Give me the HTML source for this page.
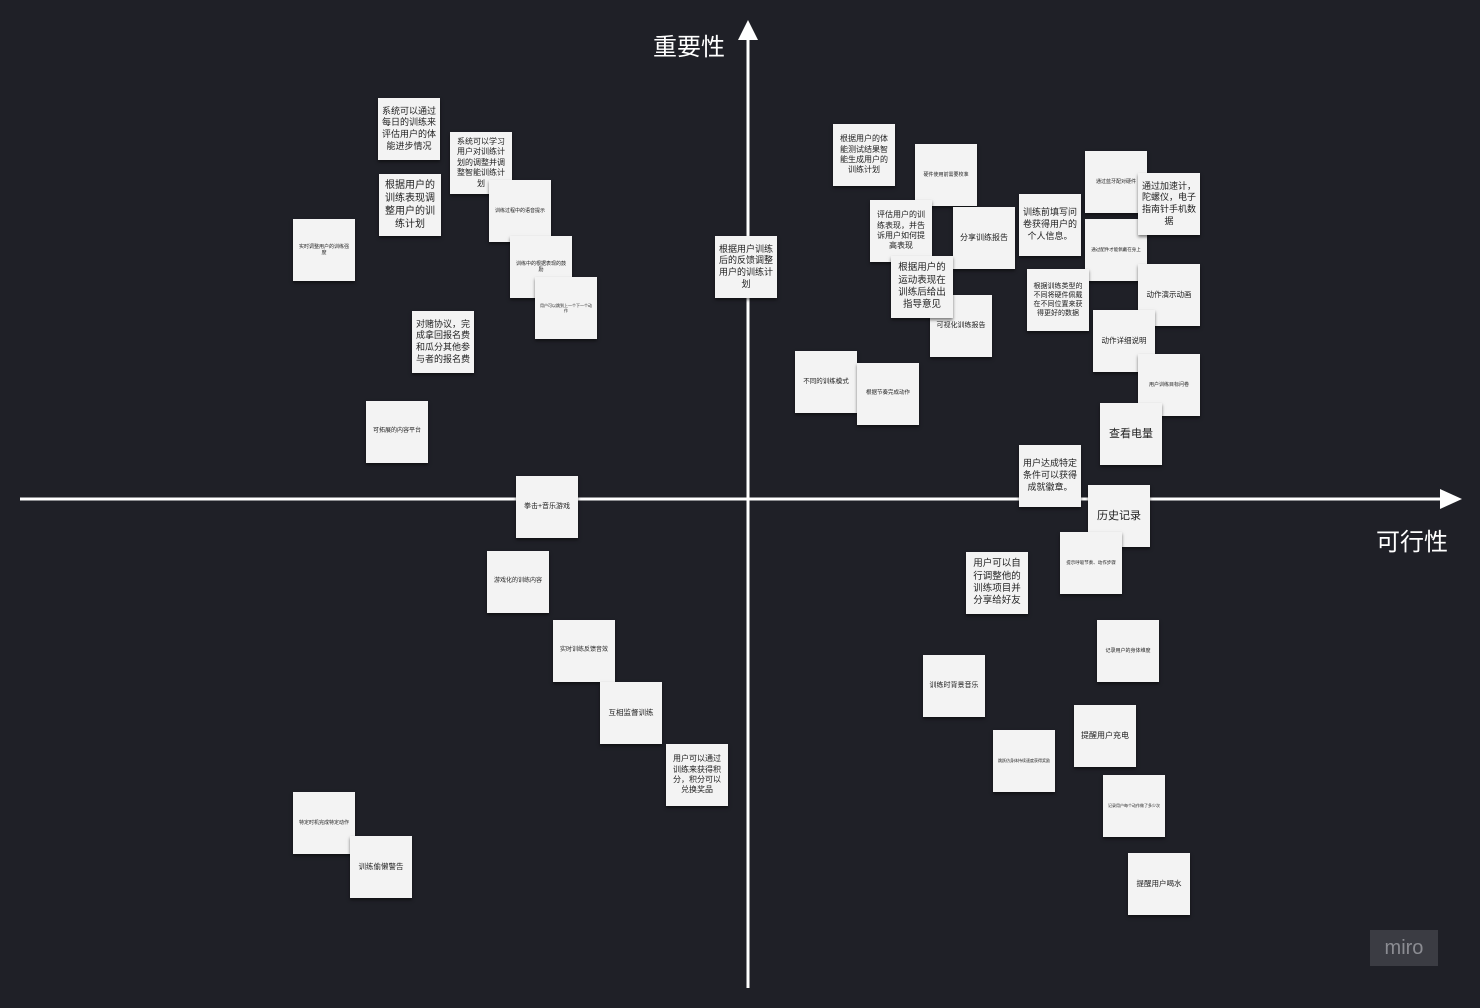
<!DOCTYPE html>
<html><head><meta charset="utf-8"><style>
html,body{margin:0;padding:0;}
body{width:1480px;height:1008px;background:#1f2027;position:relative;overflow:hidden;font-family:"Liberation Sans","Noto Sans CJK SC",sans-serif;}
.n{position:absolute;width:62px;height:62px;background:#f3f3f3;box-shadow:0 2px 3px rgba(0,0,0,.5);display:flex;align-items:center;justify-content:center;text-align:center;color:#222;line-height:1.3;box-sizing:border-box;padding:3px 4px;word-break:break-all;}
.lab{position:absolute;color:#fff;font-size:24px;font-family:"Liberation Sans","Noto Sans CJK SC",sans-serif;}
</style></head><body>
<svg width="1480" height="1008" style="position:absolute;left:0;top:0">
<line x1="20" y1="499" x2="1445" y2="499" stroke="#fff" stroke-width="3"/>
<polygon points="1462,499 1440,489 1440,509" fill="#fff"/>
<line x1="748" y1="988" x2="748" y2="36" stroke="#fff" stroke-width="3"/>
<polygon points="748,20 738,40 758,40" fill="#fff"/>
</svg>
<div class="lab" style="left:653px;top:27px;">重要性</div>
<div class="lab" style="left:1376px;top:522px;">可行性</div>
<div style="position:absolute;left:1370px;top:930px;width:68px;height:36px;background:#3b3c43;color:#8b8c92;font-size:20px;display:flex;align-items:center;justify-content:center;">miro</div>

<div class="n" style="left:378px;top:98px;font-size:9px">系统可以通过每日的训练来评估用户的体能进步情况</div>
<div class="n" style="left:450px;top:132px;font-size:8px">系统可以学习用户对训练计划的调整并调整智能训练计划</div>
<div class="n" style="left:379px;top:174px;font-size:10px">根据用户的训练表现调整用户的训练计划</div>
<div class="n" style="left:293px;top:219px;font-size:5px">实时调整用户的训练强度</div>
<div class="n" style="left:489px;top:180px;font-size:5px">训练过程中的语音提示</div>
<div class="n" style="left:510px;top:236px;font-size:5px">训练中的根据表现的鼓励</div>
<div class="n" style="left:535px;top:277px;font-size:4px">用户可以跳到上一个下一个动作</div>
<div class="n" style="left:412px;top:311px;font-size:9px">对赌协议，完成拿回报名费和瓜分其他参与者的报名费</div>
<div class="n" style="left:366px;top:401px;font-size:6px">可拓展的内容平台</div>
<div class="n" style="left:715px;top:236px;font-size:9px">根据用户训练后的反馈调整用户的训练计划</div>
<div class="n" style="left:833px;top:124px;font-size:8px">根据用户的体能测试结果智能生成用户的训练计划</div>
<div class="n" style="left:915px;top:144px;font-size:5px">硬件使用前需要校准</div>
<div class="n" style="left:953px;top:207px;font-size:8px">分享训练报告</div>
<div class="n" style="left:870px;top:200px;font-size:8px">评估用户的训练表现，并告诉用户如何提高表现</div>
<div class="n" style="left:930px;top:295px;font-size:7px">可视化训练报告</div>
<div class="n" style="left:891px;top:256px;font-size:9.5px">根据用户的运动表现在训练后给出指导意见</div>
<div class="n" style="left:1019px;top:194px;font-size:9px">训练前填写问卷获得用户的个人信息。</div>
<div class="n" style="left:1085px;top:151px;font-size:5px">通过蓝牙配对硬件</div>
<div class="n" style="left:1085px;top:219px;font-size:4.5px">通过配件才能佩戴在身上</div>
<div class="n" style="left:1138px;top:173px;font-size:9px">通过加速计，陀螺仪，电子指南针手机数据</div>
<div class="n" style="left:1027px;top:269px;font-size:7px">根据训练类型的不同将硬件佩戴在不同位置来获得更好的数据</div>
<div class="n" style="left:1138px;top:264px;font-size:7.5px">动作演示动画</div>
<div class="n" style="left:1093px;top:310px;font-size:7.5px">动作详细说明</div>
<div class="n" style="left:1138px;top:354px;font-size:5px">用户训练目标问卷</div>
<div class="n" style="left:1100px;top:403px;font-size:11px">查看电量</div>
<div class="n" style="left:795px;top:351px;font-size:6.5px">不同的训练模式</div>
<div class="n" style="left:857px;top:363px;font-size:5.5px">根据节奏完成动作</div>
<div class="n" style="left:1019px;top:445px;font-size:9px">用户达成特定条件可以获得成就徽章。</div>
<div class="n" style="left:1088px;top:485px;font-size:11px">历史记录</div>
<div class="n" style="left:1060px;top:532px;font-size:4.5px">提示呼吸节奏、动作步骤</div>
<div class="n" style="left:966px;top:552px;font-size:9.5px">用户可以自行调整他的训练项目并分享给好友</div>
<div class="n" style="left:1097px;top:620px;font-size:5px">记录用户的身体维度</div>
<div class="n" style="left:923px;top:655px;font-size:7px">训练时背景音乐</div>
<div class="n" style="left:993px;top:730px;font-size:4px">跳跃仿身体持续速度获得奖励</div>
<div class="n" style="left:1074px;top:705px;font-size:8px">提醒用户充电</div>
<div class="n" style="left:1103px;top:775px;font-size:4px">记录用户每个动作做了多少次</div>
<div class="n" style="left:1128px;top:853px;font-size:7.5px">提醒用户喝水</div>
<div class="n" style="left:516px;top:476px;font-size:7px">拳击+音乐游戏</div>
<div class="n" style="left:487px;top:551px;font-size:6px">游戏化的训练内容</div>
<div class="n" style="left:553px;top:620px;font-size:6px">实时训练反馈音效</div>
<div class="n" style="left:600px;top:682px;font-size:7.5px">互相监督训练</div>
<div class="n" style="left:666px;top:744px;font-size:8px">用户可以通过训练来获得积分，积分可以兑换奖品</div>
<div class="n" style="left:293px;top:792px;font-size:5px">特定时机完成特定动作</div>
<div class="n" style="left:350px;top:836px;font-size:7.5px">训练偷懒警告</div>
</body></html>
